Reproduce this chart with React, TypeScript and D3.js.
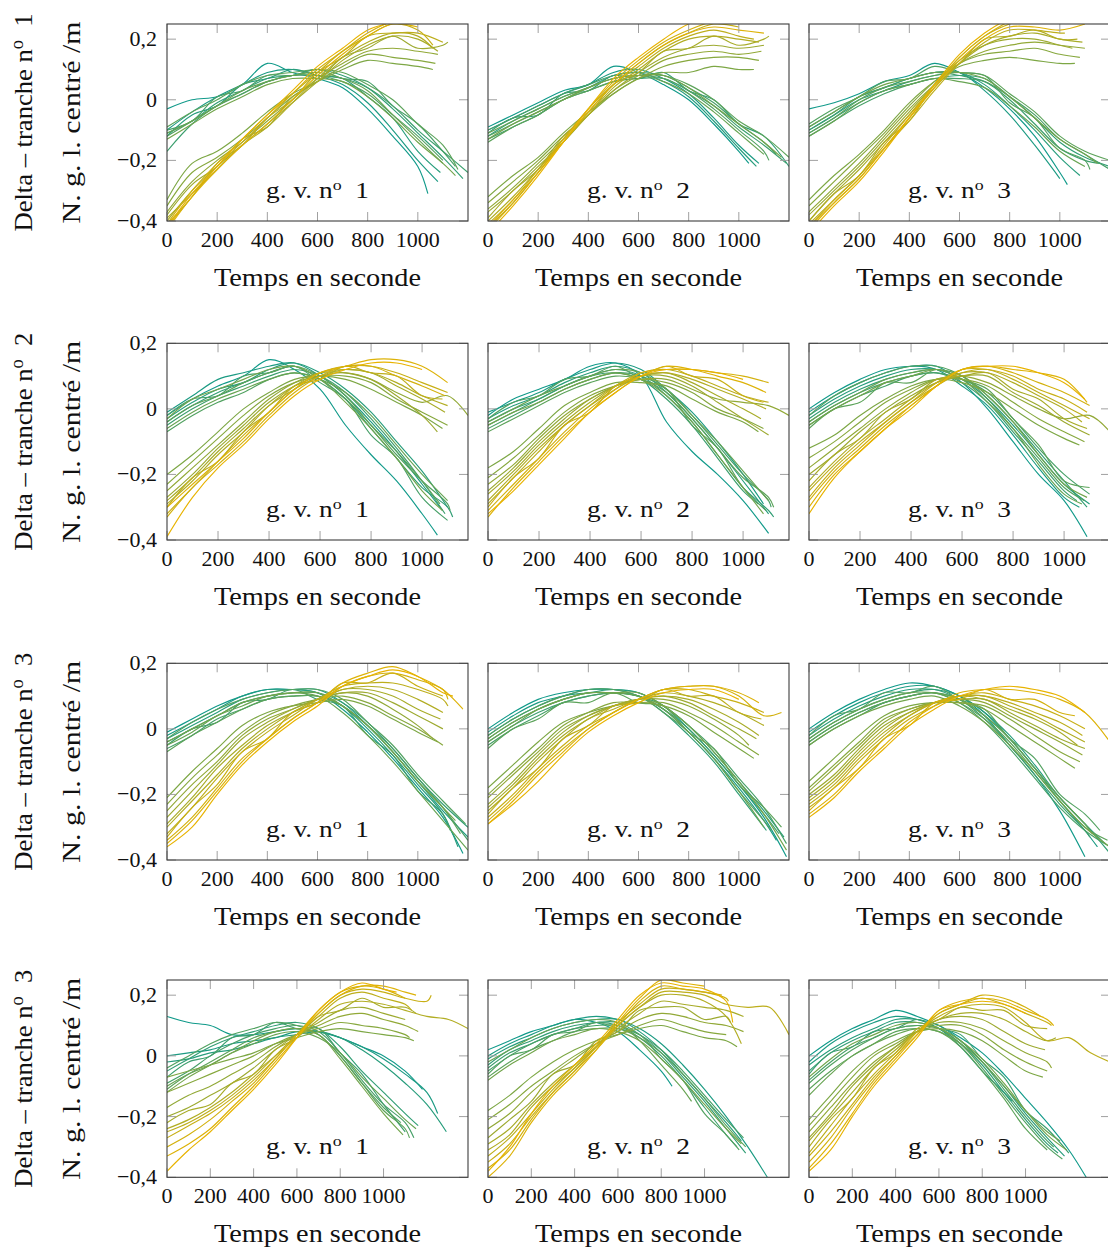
import React from "react";
import * as d3 from "d3";

// ---------- DATA (values every 100 s from t = 0; the last value is at the line's end time) ----------
// Row 1 (Delta – tranche n° 1)
const p11Arch = [
  [-.03,0,.01,.05,.12,.09,.07,.04,-.03,-.12,-.22,-.31],
  [-.10,-.04,.01,.05,.09,.10,.08,.05,-.01,-.10,-.20,-.27],
  [-.12,-.05,-.02,.05,.07,.10,.08,.07,.01,-.06,-.17,-.24],
  [-.11,-.07,-.01,.03,.07,.08,.10,.08,.04,-.03,-.11,-.19,-.26],
  [-.17,-.08,-.02,.02,.06,.08,.08,.07,.04,-.02,-.10,-.17,-.24],
  [-.10,-.07,.01,.03,.08,.08,.10,.07,.06,-.02,-.08,-.17,-.22],
  [-.12,-.07,-.02,.02,.06,.08,.08,.06,.02,-.05,-.12,-.20],
  [-.09,-.04,0,.05,.08,.09,.10,.09,.05,0,-.08,-.15,-.23],
  [-.11,-.07,-.02,.03,.06,.08,.09,.07,.03,-.05,-.13,-.21],
  [-.13,-.08,-.03,.01,.05,.07,.07,.06,.01,-.06,-.14,-.21,-.25],
];
const p11ArchEnd = [1040,1080,1090,1180,1200,1150,1100,1160,1100,1150];
const p11Rise = [
  [-.33,-.21,-.17,-.11,-.04,.02,.06,.10,.13,.12,.11,.10],
  [-.35,-.24,-.19,-.13,-.06,.01,.06,.11,.15,.14,.13,.12],
  [-.37,-.27,-.20,-.14,-.07,0,.07,.12,.16,.17,.16,.15],
  [-.38,-.28,-.22,-.13,-.09,.01,.06,.14,.17,.21,.17,.18,.19],
  [-.40,-.30,-.22,-.15,-.08,-.01,.06,.13,.18,.21,.20,.16],
  [-.39,-.31,-.23,-.15,-.09,-.01,.07,.14,.19,.22,.21,.17],
  [-.41,-.32,-.21,-.15,-.06,0,.09,.14,.21,.22,.22,.19],
  [-.42,-.32,-.22,-.14,-.06,.02,.09,.16,.21,.25,.23,.18],
  [-.41,-.30,-.21,-.13,-.05,.02,.10,.16,.22,.26,.27],
  [-.43,-.32,-.23,-.15,-.08,0,.08,.15,.21,.25,.24],
  [-.42,-.31,-.22,-.13,-.05,.03,.11,.17,.23,.26,.28],
];
const p11RiseEnd = [1060,1070,1080,1120,1080,1060,1100,1060,950,1000,920];

const p12Arch = [
  [-.09,-.05,-.01,.03,.05,.11,.09,.05,0,-.08,-.17,-.21],
  [-.10,-.06,-.02,.02,.05,.09,.10,.07,.02,-.06,-.15,-.21],
  [-.12,-.07,-.03,.01,.04,.08,.09,.06,.01,-.07,-.16,-.22],
  [-.11,-.06,-.05,.02,.03,.08,.07,.09,.03,0,-.08,-.12,-.22],
  [-.13,-.09,-.05,0,.03,.06,.07,.07,.03,-.02,-.09,-.15,-.21],
  [-.10,-.06,-.02,.02,.05,.08,.09,.08,.04,-.01,-.08,-.14,-.18],
  [-.12,-.08,-.04,0,.04,.07,.08,.07,.03,-.03,-.10,-.17,-.20],
  [-.14,-.09,-.05,0,.03,.06,.08,.08,.05,0,-.07,-.12,-.19],
  [-.11,-.07,-.03,.01,.04,.07,.08,.06,.02,-.04,-.11,-.18],
  [-.13,-.08,-.04,0,.04,.07,.08,.08,.04,-.02,-.08,-.14,-.19],
];
const p12ArchEnd = [1040,1080,1070,1200,1190,1150,1120,1200,1100,1170];
const p12Rise = [
  [-.32,-.25,-.19,-.11,-.04,.02,.07,.09,.09,.11,.10,.10],
  [-.34,-.27,-.20,-.12,-.05,.02,.07,.11,.13,.14,.14,.13],
  [-.36,-.29,-.21,-.13,-.05,.03,.08,.13,.15,.16,.15,.16],
  [-.37,-.30,-.22,-.14,-.05,.03,.09,.14,.17,.18,.17,.18],
  [-.39,-.30,-.23,-.12,-.05,.05,.09,.16,.17,.21,.18,.20,.21],
  [-.40,-.32,-.23,-.14,-.05,.04,.10,.16,.20,.21,.20,.19],
  [-.41,-.33,-.23,-.13,-.03,.05,.11,.17,.21,.23,.21,.20],
  [-.42,-.34,-.24,-.14,-.04,.05,.12,.18,.22,.25,.24],
  [-.43,-.34,-.24,-.13,-.03,.06,.13,.19,.23,.26,.27],
  [-.42,-.33,-.24,-.14,-.04,.05,.12,.18,.22,.24,.23,.22],
  [-.44,-.35,-.25,-.14,-.03,.07,.14,.20,.25,.27,.28],
];
const p12RiseEnd = [1060,1080,1090,1100,1120,1080,1060,1000,960,1100,920];

const p13Arch = [
  [-.03,-.01,.02,.06,.08,.12,.09,.04,-.03,-.12,-.24,-.28],
  [-.09,-.04,.01,.04,.07,.09,.09,.03,-.05,-.15,-.26],
  [-.10,-.05,0,.03,.06,.08,.09,.05,-.02,-.10,-.19,-.25],
  [-.11,-.06,-.01,.03,.05,.07,.08,.07,.01,-.06,-.14,-.19,-.22],
  [-.10,-.05,.01,.04,.07,.09,.08,.06,0,-.08,-.16,-.20,-.21],
  [-.12,-.07,-.02,.02,.05,.07,.07,.06,.01,-.05,-.13,-.18,-.23],
  [-.08,-.03,.01,.06,.07,.11,.09,.08,-.01,-.06,-.16,-.20,-.23],
  [-.11,-.06,0,.04,.06,.08,.09,.08,.02,-.04,-.12,-.17,-.20],
  [-.12,-.07,-.01,.03,.05,.07,.06,.04,-.02,-.09,-.17,-.22],
  [-.09,-.04,.01,.05,.07,.09,.09,.07,.01,-.06,-.13,-.18,-.21],
];
const p13ArchEnd = [1030,1000,1080,1200,1160,1200,1120,1200,1100,1150];
const p13Rise = [
  [-.33,-.25,-.18,-.10,-.01,.06,.11,.13,.14,.13,.12,.12],
  [-.35,-.27,-.19,-.11,-.02,.06,.12,.15,.16,.17,.15,.14],
  [-.37,-.29,-.21,-.12,-.03,.05,.12,.16,.18,.19,.18,.17],
  [-.38,-.30,-.22,-.13,-.04,.05,.13,.18,.20,.20,.18,.17],
  [-.40,-.31,-.23,-.14,-.05,.04,.12,.18,.21,.22,.20,.19],
  [-.40,-.31,-.25,-.14,-.07,.05,.12,.20,.21,.23,.20,.20],
  [-.41,-.33,-.25,-.16,-.07,.03,.12,.19,.23,.23,.22,.22],
  [-.42,-.33,-.25,-.15,-.05,.05,.14,.21,.25,.27],
  [-.42,-.34,-.26,-.16,-.06,.04,.14,.21,.26,.28],
  [-.43,-.34,-.26,-.16,-.06,.04,.13,.20,.24,.24,.23,.25],
  [-.44,-.35,-.27,-.17,-.06,.05,.15,.22,.27],
];
const p13RiseEnd = [1060,1080,1100,1050,1090,1070,1020,900,850,1100,800];

// Row 2 (Delta – tranche n° 2)
const p21Arch = [
  [-.02,.03,.07,.10,.15,.12,.06,-.05,-.14,-.22,-.32,-.385],
  [-.01,.04,.09,.11,.13,.14,.10,.04,-.04,-.13,-.23,-.31],
  [-.03,.02,.06,.08,.12,.14,.11,.06,-.01,-.10,-.19,-.30],
  [-.04,.01,.05,.08,.11,.13,.09,.03,-.06,-.15,-.24,-.30,-.33],
  [-.05,0,.04,.07,.10,.12,.10,.05,-.03,-.12,-.22,-.32],
  [-.02,.03,.04,.10,.11,.13,.08,.03,-.08,-.15,-.27,-.34],
  [-.07,-.02,.02,.05,.09,.11,.09,.03,-.05,-.14,-.22,-.29,-.31],
  [-.04,.01,.04,.08,.11,.13,.10,.04,-.05,-.13,-.22,-.29],
  [-.06,-.01,.03,.06,.09,.11,.09,.05,-.02,-.11,-.20,-.28],
  [-.03,.03,.06,.09,.12,.13,.09,.02,-.06,-.15,-.25,-.31],
];
const p21ArchEnd = [1060,1080,1100,1120,1090,1100,1110,1070,1100,1080];
const p21Rise = [
  [-.20,-.14,-.07,0,.05,.09,.10,.09,.06,.02,-.02,-.06],
  [-.23,-.16,-.09,-.02,.04,.08,.10,.10,.08,.03,-.01,-.05],
  [-.25,-.18,-.11,-.04,.03,.08,.11,.11,.09,.05,.02,.04,-.02],
  [-.27,-.20,-.12,-.05,.02,.07,.10,.11,.09,.04,-.02,-.07],
  [-.28,-.21,-.13,-.06,.01,.06,.10,.12,.11,.07,.03,-.01],
  [-.29,-.22,-.14,-.07,.01,.07,.11,.12,.11,.08,.04,.01],
  [-.30,-.21,-.16,-.07,-.01,.07,.09,.13,.11,.10,.04,.03],
  [-.32,-.24,-.16,-.08,-.01,.06,.11,.13,.13,.11,.08,.05],
  [-.33,-.24,-.17,-.10,-.02,.05,.10,.13,.13,.10,.07,.04],
  [-.30,-.23,-.16,-.09,-.01,.06,.11,.13,.15,.15,.13,.08],
  [-.39,-.27,-.18,-.11,-.03,.04,.09,.12,.14,.14,.12],
];
const p21RiseEnd = [1080,1100,1180,1060,1090,1100,1080,1100,1090,1100,1000];

const p22Arch = [
  [-.02,.03,.06,.09,.13,.14,.10,-.04,-.13,-.20,-.28,-.38],
  [-.01,.02,.05,.09,.12,.14,.12,.06,-.01,-.10,-.20,-.29],
  [-.03,.01,.04,.08,.11,.13,.11,.05,-.03,-.12,-.22,-.32],
  [-.04,0,.03,.07,.10,.12,.10,.04,-.04,-.14,-.24,-.31,-.33],
  [-.05,-.01,.03,.07,.10,.11,.09,.03,-.05,-.15,-.25,-.29],
  [-.06,-.02,.02,.06,.09,.11,.10,.06,-.02,-.11,-.20,-.28,-.30],
  [-.03,.02,.04,.09,.10,.13,.09,.06,-.05,-.12,-.24,-.31],
  [-.07,-.03,.01,.05,.08,.10,.09,.05,-.03,-.12,-.21,-.27,-.30],
  [-.04,0,.04,.07,.10,.12,.11,.06,-.02,-.10,-.19,-.28],
  [-.05,-.01,.02,.06,.09,.11,.09,.04,-.04,-.14,-.24,-.32],
];
const p22ArchEnd = [1100,1080,1100,1120,1060,1110,1090,1120,1100,1080];
const p22Rise = [
  [-.18,-.13,-.06,.01,.05,.08,.08,.07,.03,-.01,-.04,-.07],
  [-.21,-.15,-.08,-.01,.04,.07,.09,.08,.05,0,-.03,-.06],
  [-.23,-.17,-.09,-.02,.03,.07,.09,.09,.06,.03,.02,.01,-.02],
  [-.25,-.18,-.10,-.03,.03,.07,.10,.10,.07,.02,-.03,-.08],
  [-.26,-.19,-.11,-.04,.02,.07,.10,.11,.08,.04,0,-.03],
  [-.28,-.20,-.12,-.05,.01,.06,.10,.11,.09,.06,.03,0],
  [-.29,-.21,-.13,-.05,.01,.07,.11,.12,.10,.07,.04,.02],
  [-.30,-.21,-.15,-.05,-.01,.07,.10,.13,.10,.09,.04,.02],
  [-.31,-.23,-.15,-.07,0,.06,.11,.12,.12,.11,.10,.08],
  [-.33,-.24,-.16,-.08,-.01,.05,.10,.13,.12,.10,.08,.05],
  [-.32,-.25,-.17,-.09,-.01,.05,.10,.12,.12,.11,.09],
];
const p22RiseEnd = [1060,1080,1180,1100,1070,1090,1100,1080,1100,1090,1000];

const p23Arch = [
  [0,.05,.09,.12,.13,.13,.08,0,-.10,-.20,-.28,-.39],
  [-.01,.04,.08,.11,.13,.12,.07,.01,-.08,-.18,-.27,-.30],
  [-.02,.03,.07,.10,.12,.12,.09,.03,-.05,-.14,-.23,-.29],
  [-.03,.02,.06,.09,.11,.12,.10,.04,-.04,-.13,-.22,-.30],
  [-.04,.01,.05,.08,.10,.11,.08,.02,-.07,-.16,-.25,-.28],
  [-.05,0,.04,.07,.10,.11,.09,.05,-.03,-.12,-.20,-.26],
  [-.02,.04,.08,.11,.13,.13,.10,.03,-.06,-.15,-.24,-.28],
  [-.06,0,.02,.08,.08,.12,.09,.06,-.03,-.11,-.22,-.24],
  [-.04,.01,.05,.09,.11,.12,.09,.02,-.06,-.17,-.26,-.29],
  [-.05,0,.04,.08,.10,.12,.10,.04,-.04,-.14,-.23,-.27],
];
const p23ArchEnd = [1090,1060,1100,1090,1050,1100,1080,1100,1070,1090];
const p23Rise = [
  [-.12,-.08,-.02,.03,.07,.09,.08,.05,0,-.05,-.09,-.11],
  [-.15,-.10,-.04,.02,.06,.09,.09,.07,.02,-.03,-.07,-.10],
  [-.18,-.12,-.06,0,.05,.09,.10,.08,.04,0,-.03,-.02,-.07],
  [-.20,-.14,-.07,-.01,.04,.08,.10,.10,.05,.01,-.04,-.08],
  [-.22,-.14,-.09,-.01,.03,.09,.10,.11,.06,.03,-.03,-.06],
  [-.24,-.16,-.09,-.03,.03,.08,.11,.11,.08,.04,0,-.04],
  [-.25,-.17,-.10,-.04,.02,.07,.11,.12,.09,.05,.01,-.03],
  [-.27,-.18,-.11,-.04,.02,.08,.12,.12,.10,.06,.03,-.01],
  [-.28,-.19,-.12,-.05,.01,.07,.12,.13,.11,.08,.05,.01],
  [-.30,-.20,-.13,-.06,.01,.07,.12,.13,.12,.11,.09,.02],
  [-.32,-.21,-.13,-.06,0,.07,.12,.13,.13,.11,.08,.03],
];
const p23RiseEnd = [1060,1080,1180,1100,1090,1070,1100,1090,1100,1090,1080];

// Row 3 (Delta – tranche n° 3)
const p31Arch = [
  [-.01,.03,.07,.10,.12,.12,.11,.06,-.01,-.09,-.18,-.27,-.38],
  [-.02,.02,.06,.10,.12,.12,.12,.08,.01,-.07,-.16,-.25,-.33],
  [-.03,.01,.05,.09,.11,.12,.11,.07,0,-.08,-.17,-.26,-.36],
  [-.04,0,.04,.08,.10,.11,.11,.08,.02,-.06,-.15,-.23,-.30],
  [-.05,0,.02,.08,.09,.12,.09,.07,-.02,-.08,-.19,-.26,-.31],
  [-.06,-.02,.03,.06,.09,.10,.10,.07,.01,-.06,-.15,-.24,-.34],
  [-.03,.02,.06,.09,.11,.12,.12,.09,.02,-.05,-.14,-.22,-.29],
  [-.07,-.02,.02,.06,.09,.10,.10,.07,.01,-.07,-.16,-.24,-.32],
  [-.05,-.01,.04,.07,.10,.11,.10,.05,-.02,-.10,-.19,-.28,-.37],
  [-.04,0,.04,.08,.10,.11,.11,.07,.01,-.07,-.16,-.24,-.28],
];
const p31ArchEnd = [1180,1200,1160,1200,1130,1200,1190,1170,1200,1150];
const p31Rise = [
  [-.21,-.13,-.06,.01,.05,.07,.08,.09,.07,.03,-.01,-.04],
  [-.23,-.15,-.08,-.01,.04,.07,.09,.10,.08,.04,0,-.05],
  [-.25,-.17,-.10,-.02,.03,.06,.09,.11,.10,.06,.01,-.03],
  [-.27,-.19,-.11,-.03,.02,.06,.09,.11,.11,.08,.04,0],
  [-.29,-.21,-.12,-.05,.01,.05,.08,.12,.12,.10,.06,.03],
  [-.30,-.22,-.14,-.06,0,.05,.09,.12,.13,.12,.09,.05],
  [-.32,-.24,-.15,-.07,-.01,.04,.09,.13,.14,.14,.12,.09,.07],
  [-.33,-.24,-.17,-.07,-.03,.05,.08,.14,.14,.17,.13,.10],
  [-.34,-.27,-.18,-.09,-.03,.03,.08,.13,.16,.17,.15,.12,.09],
  [-.35,-.28,-.19,-.10,-.03,.03,.08,.14,.17,.19,.16,.12,.06],
  [-.36,-.30,-.20,-.11,-.04,.02,.07,.13,.16,.18,.16,.11,.10],
];
const p31RiseEnd = [1080,1100,1060,1100,1090,1100,1120,1100,1120,1180,1140];

const p32Arch = [
  [0,.05,.09,.11,.12,.12,.11,.07,0,-.08,-.17,-.27,-.39],
  [-.01,.04,.08,.10,.12,.12,.10,.06,-.01,-.09,-.18,-.28,-.34],
  [-.02,.03,.07,.10,.11,.12,.11,.07,.01,-.07,-.16,-.25,-.33],
  [-.03,.02,.06,.09,.11,.11,.10,.05,-.02,-.10,-.20,-.30,-.31],
  [-.04,.01,.05,.08,.10,.11,.10,.06,0,-.08,-.17,-.26,-.32],
  [-.05,0,.04,.08,.10,.11,.10,.07,.01,-.06,-.15,-.24,-.35],
  [-.02,.03,.07,.10,.12,.12,.10,.05,-.01,-.09,-.19,-.28,-.31],
  [-.06,0,.03,.08,.08,.11,.08,.07,-.01,-.06,-.17,-.24,-.30],
  [-.04,.01,.06,.09,.11,.11,.10,.06,-.01,-.09,-.19,-.30],
  [-.03,.02,.06,.09,.11,.11,.11,.07,.01,-.07,-.16,-.26,-.37],
];
const p32ArchEnd = [1190,1150,1180,1110,1160,1190,1130,1170,1100,1190];
const p32Rise = [
  [-.18,-.11,-.04,.02,.05,.07,.08,.07,.04,-.01,-.06,-.09],
  [-.20,-.13,-.06,.01,.05,.08,.08,.08,.05,.01,-.04,-.08],
  [-.21,-.14,-.07,0,.04,.07,.09,.09,.07,.03,-.02,-.05],
  [-.23,-.16,-.08,-.01,.04,.07,.09,.10,.08,.04,0,-.03],
  [-.24,-.17,-.09,-.02,.03,.07,.09,.10,.09,.06,.02,-.02],
  [-.25,-.18,-.10,-.03,.03,.06,.09,.11,.10,.08,.05,.01],
  [-.26,-.18,-.12,-.03,.01,.07,.08,.12,.10,.10,.05,.03],
  [-.27,-.20,-.12,-.05,.01,.05,.09,.12,.12,.10,.08,.05],
  [-.28,-.21,-.13,-.06,0,.05,.09,.12,.13,.13,.10,.04,.05],
  [-.29,-.22,-.14,-.07,0,.05,.09,.12,.13,.13,.11,.08],
  [-.29,-.23,-.16,-.08,-.01,.04,.08,.11,.12,.12,.09],
];
const p32RiseEnd = [1060,1080,1040,1070,1080,1100,1090,1100,1170,1080,1000];

const p33Arch = [
  [0,.05,.09,.12,.14,.13,.10,.04,-.05,-.14,-.25,-.39],
  [-.01,.04,.08,.11,.13,.13,.10,.05,-.03,-.12,-.22,-.31,-.36],
  [-.02,.03,.07,.10,.12,.12,.10,.05,-.02,-.11,-.21,-.29,-.35],
  [-.03,.02,.06,.09,.11,.12,.09,.04,-.03,-.12,-.21,-.29,-.38],
  [-.04,.01,.05,.08,.10,.11,.09,.03,-.05,-.14,-.23,-.31,-.33],
  [-.05,0,.04,.08,.10,.11,.08,.02,-.06,-.15,-.24,-.31,-.36],
  [-.02,.04,.06,.11,.11,.13,.09,.06,-.03,-.09,-.20,-.26,-.31],
  [-.04,.01,.05,.08,.10,.11,.08,.03,-.04,-.13,-.22,-.30,-.34],
  [-.03,.02,.06,.09,.11,.11,.09,.04,-.03,-.12,-.21,-.29,-.32],
  [-.05,0,.04,.07,.09,.10,.07,.02,-.05,-.13,-.22,-.30,-.36],
];
const p33ArchEnd = [1100,1150,1180,1200,1120,1200,1160,1190,1130,1200];
const p33Rise = [
  [-.16,-.09,-.02,.04,.07,.08,.08,.06,.01,-.04,-.09,-.12],
  [-.18,-.11,-.04,.03,.06,.08,.08,.07,.03,-.02,-.07,-.10],
  [-.19,-.12,-.05,.02,.06,.08,.09,.08,.04,0,-.04,-.08],
  [-.20,-.14,-.06,.01,.05,.08,.09,.09,.05,.01,-.03,-.06],
  [-.21,-.15,-.07,0,.05,.08,.10,.09,.06,.03,-.01,-.05],
  [-.22,-.16,-.08,-.01,.04,.08,.10,.10,.07,.04,0,-.04],
  [-.23,-.17,-.09,-.02,.04,.08,.10,.10,.08,.05,.02,-.02],
  [-.24,-.18,-.10,-.03,.03,.07,.10,.11,.09,.07,.04,0],
  [-.25,-.18,-.12,-.03,.01,.08,.09,.12,.09,.09,.05,.04],
  [-.26,-.20,-.12,-.05,.02,.07,.11,.12,.12,.11,.09,.05,-.04],
  [-.27,-.21,-.13,-.06,.01,.06,.10,.12,.13,.12,.10,.05],
];
const p33RiseEnd = [1060,1080,1090,1100,1070,1100,1090,1100,1060,1200,1100];

// Row 4 (Delta – tranche n° 3, second set)
const p41Arch = [
  [.13,.11,.10,.07,.07,.08,.09,.08,.06,.03,0,-.05,-.11],
  [0,.01,.02,.04,.05,.06,.08,.08,.06,.03,-.01,-.06,-.12,-.19],
  [-.02,-.01,.01,.02,.04,.06,.07,.08,.06,.02,-.03,-.09,-.16,-.25],
  [-.05,-.01,.03,.06,.08,.10,.11,.09,.03,-.05,-.12,-.19,-.23],
  [-.07,-.02,0,.06,.07,.11,.09,.09,.01,-.06,-.16,-.25],
  [-.09,-.05,0,.04,.07,.09,.10,.08,.01,-.08,-.16,-.22,-.27],
  [-.04,0,.04,.07,.09,.11,.10,.07,0,-.09,-.17,-.22],
  [-.11,-.06,-.02,.02,.06,.08,.09,.07,0,-.09,-.18,-.24,-.27],
  [-.10,-.06,-.03,.01,.04,.07,.08,.06,.01,-.07,-.14,-.21,-.24],
  [-.12,-.07,-.03,.01,.05,.08,.09,.07,-.01,-.10,-.19,-.26],
];
const p41ArchEnd = [1180,1250,1290,1160,1100,1140,1080,1120,1150,1090];
const p41Rise = [
  [-.07,-.05,-.03,-.01,.01,.04,.06,.08,.09,.08,.07,.06,.05],
  [-.12,-.09,-.06,-.03,0,.04,.07,.09,.11,.10,.09,.07,.06],
  [-.17,-.13,-.10,-.06,-.02,.03,.07,.10,.13,.14,.12,.10,.08],
  [-.20,-.17,-.13,-.09,-.04,.02,.07,.11,.15,.16,.14,.12],
  [-.22,-.18,-.16,-.09,-.06,.02,.06,.13,.15,.19,.16,.16,.14],
  [-.24,-.21,-.17,-.12,-.06,0,.06,.12,.17,.18,.17,.15,.13,.12,.09],
  [-.25,-.22,-.18,-.13,-.07,0,.07,.13,.19,.21,.19,.17,.15],
  [-.27,-.23,-.19,-.14,-.08,-.01,.07,.14,.20,.22,.21,.19,.18,.20],
  [-.30,-.26,-.21,-.15,-.09,-.01,.07,.15,.21,.23,.22,.19],
  [-.33,-.29,-.24,-.17,-.10,-.02,.06,.14,.20,.23,.23,.21,.20],
  [-.38,-.31,-.25,-.18,-.11,-.03,.06,.15,.21,.24,.22,.21],
];
const p41RiseEnd = [1140,1120,1160,1100,1150,1390,1130,1220,1100,1150,1060];

const p42Arch = [
  [.02,.05,.08,.10,.12,.11,.08,.02,-.05,-.10],
  [0,.04,.07,.10,.12,.13,.12,.09,.04,-.03,-.11,-.20,-.30,-.40],
  [-.01,.03,.06,.09,.11,.12,.12,.08,.02,-.06,-.14,-.22,-.28],
  [-.03,.02,.05,.08,.10,.11,.11,.07,.01,-.07,-.15,-.24,-.32],
  [-.04,.01,.04,.07,.09,.11,.10,.06,0,-.08,-.17,-.26,-.30],
  [-.05,0,.04,.07,.09,.10,.10,.07,.02,-.05,-.13,-.21,-.27],
  [-.06,0,.02,.07,.08,.11,.09,.07,-.01,-.08,-.19,-.26,-.31],
  [-.07,-.02,.02,.05,.08,.09,.09,.06,.01,-.06,-.14,-.23,-.30],
  [-.02,.02,.06,.09,.11,.12,.11,.05,-.03,-.11,-.15],
  [-.08,-.03,.01,.05,.07,.09,.08,.05,-.01,-.08,-.16,-.24,-.29],
];
const p42ArchEnd = [850,1290,1170,1190,1150,1180,1160,1190,940,1170];
const p42Rise = [
  [-.18,-.13,-.07,-.02,.02,.05,.07,.09,.10,.08,.06,.05,.03],
  [-.21,-.16,-.10,-.05,0,.04,.07,.10,.12,.10,.08,.07],
  [-.24,-.19,-.12,-.06,-.01,.04,.08,.12,.14,.13,.11,.10,.08],
  [-.27,-.21,-.15,-.06,-.03,.05,.08,.15,.16,.16,.12,.13,.11],
  [-.29,-.24,-.16,-.09,-.03,.03,.09,.14,.18,.17,.16,.15,.13],
  [-.31,-.26,-.17,-.10,-.04,.03,.10,.16,.20,.20,.18,.13,.04],
  [-.33,-.27,-.19,-.11,-.04,.03,.10,.16,.21,.21,.20,.17,.16,.16,.07],
  [-.35,-.29,-.20,-.12,-.05,.03,.11,.17,.22,.22,.21,.19,.18],
  [-.37,-.31,-.21,-.12,-.05,.02,.10,.18,.23,.22,.21,.20],
  [-.40,-.33,-.22,-.13,-.06,.02,.11,.19,.25,.24,.23],
  [-.38,-.30,-.19,-.10,-.03,.04,.12,.20,.24,.23,.22,.18,.11],
];
const p42RiseEnd = [1150,1100,1180,1120,1180,1170,1390,1110,1080,1000,1130];

const p43Arch = [
  [0,.05,.09,.12,.15,.13,.10,.06,.01,-.06,-.14,-.22,-.31,-.40],
  [-.02,.04,.08,.11,.13,.12,.09,.03,-.05,-.12,-.15],
  [-.03,.02,.06,.09,.12,.12,.10,.05,-.02,-.10,-.19,-.27,-.33],
  [-.05,.01,.05,.08,.11,.11,.09,.04,-.03,-.12,-.21,-.29,-.32],
  [-.06,.01,.03,.08,.09,.12,.09,.07,-.01,-.07,-.18,-.24,-.32],
  [-.08,-.02,.03,.06,.09,.10,.09,.05,-.02,-.11,-.20,-.28,-.30],
  [-.09,-.03,.02,.06,.09,.10,.09,.04,-.04,-.13,-.22,-.30,-.34],
  [-.11,-.05,0,.04,.08,.09,.08,.03,-.05,-.14,-.24,-.31],
  [-.13,-.06,0,.04,.07,.09,.08,.04,-.02,-.10,-.18,-.25,-.28],
  [-.07,-.01,.04,.07,.10,.11,.09,.05,-.01,-.09,-.18,-.26,-.31],
];
const p43ArchEnd = [1280,940,1180,1150,1200,1130,1170,1100,1160,1190];
const p43Rise = [
  [-.21,-.13,-.05,.01,.05,.08,.09,.08,.05,0,-.05,-.07],
  [-.23,-.15,-.07,0,.04,.08,.10,.10,.07,.02,-.02,-.05],
  [-.25,-.17,-.09,-.02,.03,.08,.11,.11,.09,.05,.01,-.02,-.04],
  [-.27,-.19,-.10,-.03,.03,.08,.12,.13,.12,.08,.04,.02],
  [-.28,-.20,-.12,-.04,.02,.08,.12,.14,.14,.12,.08,.05,.06],
  [-.30,-.21,-.14,-.04,.01,.09,.12,.16,.15,.15,.10,.09],
  [-.32,-.23,-.14,-.06,.01,.08,.13,.16,.17,.16,.11,.05,.06,.01,-.02],
  [-.33,-.25,-.16,-.07,0,.08,.14,.17,.19,.17,.14,.11,.10],
  [-.35,-.27,-.17,-.08,0,.07,.14,.17,.20,.19,.16,.13],
  [-.37,-.29,-.19,-.09,-.01,.07,.15,.18,.19,.18,.15,.12,.10],
  [-.38,-.31,-.20,-.10,-.02,.06,.15,.17,.18,.17,.14],
];
const p43RiseEnd = [1080,1100,1120,1090,1140,1100,1390,1120,1070,1130,1000];

const yTicks = [-0.4, -0.2, 0, 0.2];
const xTicks = [0, 200, 400, 600, 800, 1000];
const rowTitles = ["Delta – tranche n", "Delta – tranche n", "Delta – tranche n", "Delta – tranche n"];
const rowNumbers = ["1", "2", "3", "3"];
const colNumbers = ["1", "2", "3"];
const yTitle2 = "N. g. l. centré /m";
const xTitle = "Temps en seconde";

const panels = [
  [[p11Arch, p11ArchEnd, p11Rise, p11RiseEnd], [p12Arch, p12ArchEnd, p12Rise, p12RiseEnd], [p13Arch, p13ArchEnd, p13Rise, p13RiseEnd]],
  [[p21Arch, p21ArchEnd, p21Rise, p21RiseEnd], [p22Arch, p22ArchEnd, p22Rise, p22RiseEnd], [p23Arch, p23ArchEnd, p23Rise, p23RiseEnd]],
  [[p31Arch, p31ArchEnd, p31Rise, p31RiseEnd], [p32Arch, p32ArchEnd, p32Rise, p32RiseEnd], [p33Arch, p33ArchEnd, p33Rise, p33RiseEnd]],
  [[p41Arch, p41ArchEnd, p41Rise, p41RiseEnd], [p42Arch, p42ArchEnd, p42Rise, p42RiseEnd], [p43Arch, p43ArchEnd, p43Rise, p43RiseEnd]],
];

// ---------- LAYOUT ----------
const COL_LEFT = [167, 488, 809];
const PANEL_W = 301;
const ROWS = [
  { top: 24, bottom: 221, yMax: 0.25, xMax: 1200 },
  { top: 343.3, bottom: 540, yMax: 0.2, xMax: 1180 },
  { top: 663.3, bottom: 860, yMax: 0.2, xMax: 1200 },
  { top: 980, bottom: 1177.3, yMax: 0.25, xMax: 1390 },
];
const FONT = "'Liberation Serif', 'DejaVu Serif', serif";
const colorScale = d3.interpolateRgb("#119a8a", "#e8b300");
const fmtY = (d: number) => (d === 0 ? "0" : (d < 0 ? "\u2212" : "") + Math.abs(d).toFixed(1).replace(".", ","));

function Panel({ r, c }: { r: number; c: number }) {
  const row = ROWS[r];
  const left = COL_LEFT[c];
  const right = left + PANEL_W;
  const x = d3.scaleLinear().domain([0, row.xMax]).range([left, right]);
  const y = d3.scaleLinear().domain([-0.4, row.yMax]).range([row.bottom, row.top]);
  const [arch, archEnd, rise, riseEnd] = panels[r][c] as [number[][], number[], number[][], number[]];
  const series = [
    ...arch.map((v, i) => ({ v, end: archEnd[i] })),
    ...rise.map((v, i) => ({ v, end: riseEnd[i] })),
  ];
  const n = series.length;
  const line = d3
    .line<[number, number]>()
    .x((d) => x(d[0]))
    .y((d) => y(d[1]))
    .curve(d3.curveCatmullRom.alpha(0.5));
  const clipId = `clip-${r}-${c}`;
  const tickLen = 9;
  return (
    <g>
      <defs>
        <clipPath id={clipId}>
          <rect x={left} y={row.top} width={PANEL_W} height={row.bottom - row.top} />
        </clipPath>
      </defs>
      <g clipPath={`url(#${clipId})`}>
        {series.map((s, i) => {
          const pts: [number, number][] = s.v.map((val, k) => [k < s.v.length - 1 ? k * 100 : s.end, val]);
          return (
            <path
              key={i}
              d={line(pts) || ""}
              fill="none"
              stroke={colorScale(i / (n - 1))}
              strokeWidth={1.15}
              strokeLinejoin="round"
            />
          );
        })}
      </g>
      {xTicks.map((t) => (
        <g key={"xt" + t} stroke="#a0a0a0" strokeWidth={1}>
          <line x1={x(t)} x2={x(t)} y1={row.bottom} y2={row.bottom - tickLen} />
          <line x1={x(t)} x2={x(t)} y1={row.top} y2={row.top + tickLen} />
        </g>
      ))}
      {yTicks.map((t) => (
        <g key={"yt" + t} stroke="#a0a0a0" strokeWidth={1}>
          <line x1={left} x2={left + tickLen} y1={y(t)} y2={y(t)} />
          <line x1={right} x2={right - tickLen} y1={y(t)} y2={y(t)} />
        </g>
      ))}
      <rect x={left} y={row.top} width={PANEL_W} height={row.bottom - row.top} fill="none" stroke="#3c3c3c" strokeWidth={1.1} />
      {xTicks.map((t) => (
        <text key={"xl" + t} x={x(t)} y={row.bottom + 26} textAnchor="middle" fontFamily={FONT} fontSize={22} fill="#111">
          {t}
        </text>
      ))}
      {c === 0 &&
        yTicks.map((t) => (
          <text key={"yl" + t} x={left - 10} y={y(t) + 7} textAnchor="end" fontFamily={FONT} fontSize={22} fill="#111">
            {fmtY(t)}
          </text>
        ))}
      <text x={(left + right) / 2} y={row.bottom + 65} textAnchor="middle" fontFamily={FONT} fontSize={26} fill="#111" textLength={207} lengthAdjust="spacingAndGlyphs">
        {xTitle}
      </text>
      <text
        x={(left + right) / 2}
        y={row.bottom - 23}
        textAnchor="middle"
        fontFamily={FONT}
        fontSize={23}
        fill="#111"
        textLength={103}
        lengthAdjust="spacingAndGlyphs"
      >
        {"g. v. n"}
        <tspan dy={-8} fontSize={15}>o</tspan>
        <tspan dy={8}>{"\u00a0\u00a0" + colNumbers[c]}</tspan>
      </text>
      {c === 0 && (
        <g>
          <text
            transform={`translate(32, ${(row.top + row.bottom) / 2}) rotate(-90)`}
            textAnchor="middle"
            fontFamily={FONT}
            fontSize={26}
            fill="#111"
            textLength={218}
            lengthAdjust="spacingAndGlyphs"
          >
            {rowTitles[r]}
            <tspan dy={-9} fontSize={18}>o</tspan>
            <tspan dy={9}>{"\u00a0\u00a0" + rowNumbers[r]}</tspan>
          </text>
          <text
            transform={`translate(80, ${(row.top + row.bottom) / 2}) rotate(-90)`}
            textAnchor="middle"
            fontFamily={FONT}
            fontSize={26}
            fill="#111"
            textLength={202}
            lengthAdjust="spacingAndGlyphs"
          >
            {yTitle2}
          </text>
        </g>
      )}
    </g>
  );
}

export default function App() {
  return (
    <svg width={1108} height={1252} style={{ position: "absolute", left: 0, top: 0, background: "#fff" }}>
      <rect x={0} y={0} width={1108} height={1252} fill="#fff" />
      {ROWS.map((_, r) => COL_LEFT.map((__, c) => <Panel key={`${r}-${c}`} r={r} c={c} />))}
    </svg>
  );
}
